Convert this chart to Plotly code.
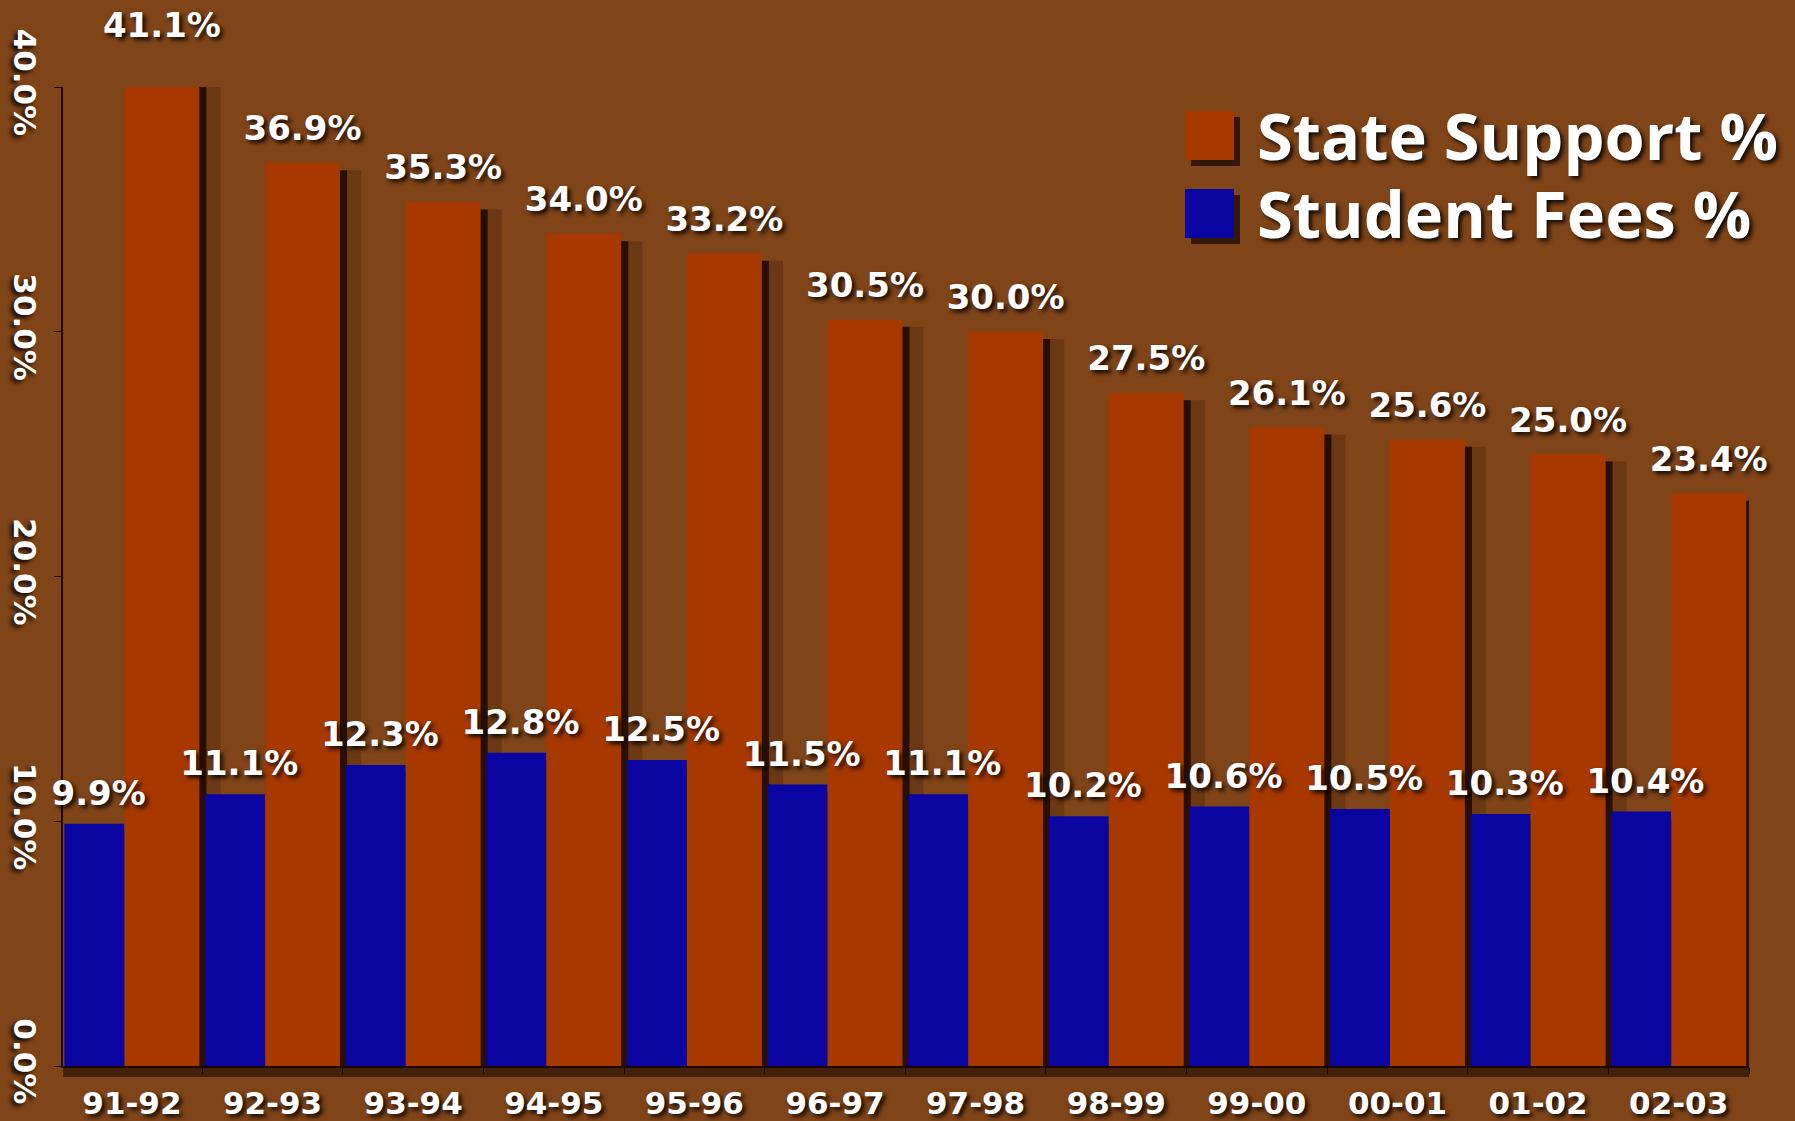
import plotly.graph_objects as go

categories = ["91-92", "92-93", "93-94", "94-95", "95-96", "96-97",
              "97-98", "98-99", "99-00", "00-01", "01-02", "02-03"]
state_support = [41.1, 36.9, 35.3, 34.0, 33.2, 30.5, 30.0, 27.5, 26.1, 25.6, 25.0, 23.4]
student_fees = [9.9, 11.1, 12.3, 12.8, 12.5, 11.5, 11.1, 10.2, 10.6, 10.5, 10.3, 10.4]
y_ticks = [0, 10, 20, 30, 40]
y_tick_labels = ["0.0%", "10.0%", "20.0%", "30.0%", "40.0%"]

ORANGE = "#a63800"
BLUE = "#0a04a0"
BG = "#7f4418"
SHADOW = "rgba(22,6,0,0.8)"
TXT_SHADOW = "3px 3px 4px rgba(0,0,0,0.85)"

W, H = 1795, 1121
ML, MR, MT, MB = 63, 46, 20, 55
Y_TOP_PX = 87                      # pixel row of the 40% line
PW = W - ML - MR
PH = H - MT - MB
MAIN_DOM = (H - MB - Y_TOP_PX) / PH
Y_MAX = 40
Y2_MAX = Y_MAX / MAIN_DOM          # same pixel scale on the label axis


def px(xp):
    return (xp - ML) / PW


def py(yp):
    return (H - MB - yp) / PH


x = list(range(len(categories)))
X_RANGE = [-0.49, 11.5]

# geometry in category units
G0 = -0.48
BLUE_W = 0.427
ORANGE_OFF = G0 + BLUE_W
ORANGE_W = 0.533

fig = go.Figure()

# soft darkening right of each orange bar
fig.add_trace(go.Bar(x=x, y=state_support, base=-0.3, offset=ORANGE_OFF + 0.03, width=ORANGE_W + 0.12,
                     marker=dict(color="rgba(30,10,0,0.2)", line=dict(width=0)), hoverinfo="skip", showlegend=False))
# drop shadow of bars
fig.add_trace(go.Bar(x=x, y=state_support, base=-0.3, offset=ORANGE_OFF + 0.05, width=ORANGE_W,
                     marker=dict(color=SHADOW, line=dict(width=0)), hoverinfo="skip", showlegend=False))
fig.add_trace(go.Bar(x=x, y=student_fees, base=-0.3, offset=G0 + 0.05, width=BLUE_W,
                     marker=dict(color=SHADOW, line=dict(width=0)), hoverinfo="skip", showlegend=False))
fig.add_trace(go.Bar(x=x, y=student_fees, offset=G0, width=BLUE_W, name="Student Fees %",
                     marker=dict(color=BLUE, line=dict(width=0)), showlegend=False))
fig.add_trace(go.Bar(x=x, y=state_support, offset=ORANGE_OFF, width=ORANGE_W, name="State Support %",
                     marker=dict(color=ORANGE, line=dict(width=0)), showlegend=False))

label_font = dict(family="DejaVu Sans", size=34, color="white", weight="bold", shadow=TXT_SHADOW)

# value labels on an invisible overlay subplot with the same scale but taller extent
fig.add_trace(go.Scatter(x=[i + ORANGE_OFF + ORANGE_W / 2 for i in x], y=state_support,
                         text=[f"{v:.1f}%" for v in state_support], mode="markers+text",
                         textposition="top center", textfont=label_font, xaxis="x2", yaxis="y2",
                         cliponaxis=False,
                         marker=dict(size=21, opacity=0), hoverinfo="skip", showlegend=False))
fig.add_trace(go.Scatter(x=[i + G0 + BLUE_W / 2 + 0.03 for i in x], y=student_fees,
                         text=[f"{v:.1f}%" for v in student_fees], mode="markers+text",
                         textposition="top center", textfont=label_font, xaxis="x2", yaxis="y2",
                         cliponaxis=False,
                         marker=dict(size=15, opacity=0), hoverinfo="skip", showlegend=False))

# custom legend
annotations = []
leg_font = dict(family="Open Sans", size=65, color="white", weight="bold", shadow=TXT_SHADOW)
legend_items = [("State Support %", ORANGE, 111), ("Student Fees %", BLUE, 189)]
shapes = []
for name, col, ytop in legend_items:
    shapes.append(dict(type="rect", xref="paper", yref="paper", layer="above",
                       x0=px(1191), x1=px(1240), y0=py(ytop + 55), y1=py(ytop + 6),
                       fillcolor="rgba(20,5,0,0.7)", line=dict(width=0)))
    shapes.append(dict(type="rect", xref="paper", yref="paper", layer="above",
                       x0=px(1185), x1=px(1234), y0=py(ytop + 49), y1=py(ytop),
                       fillcolor=col, line=dict(width=0)))
    annotations.append(dict(x=px(1255), y=py(ytop + 24), xref="paper", yref="paper",
                            text=name, showarrow=False, xanchor="left", yanchor="middle", font=leg_font))

# shadow below x axis
shapes.append(dict(type="rect", xref="paper", yref="paper", layer="below",
                   x0=0, x1=1.0, y0=py(H - MB + 11), y1=0, fillcolor="rgba(25,8,0,0.6)", line=dict(width=0)))

tick_font = dict(family="DejaVu Sans", size=31, color="white", weight="bold", shadow=TXT_SHADOW)

fig.update_layout(
    width=W, height=H,
    paper_bgcolor=BG, plot_bgcolor="rgba(0,0,0,0)",
    margin=dict(l=ML, r=MR, t=MT, b=MB),
    barmode="overlay",
    showlegend=False,
    annotations=annotations,
    shapes=shapes,
    xaxis=dict(range=X_RANGE, domain=[0, 1], tickvals=x, ticktext=categories, showgrid=False, zeroline=False,
               showline=True, linecolor="#1a0800", linewidth=2, ticks="", tickfont=tick_font,
               ticklabelstandoff=9, automargin=False,
               minor=dict(ticks="outside", ticklen=6, tickcolor="#1a0800", tick0=0.5, dtick=1, showgrid=False)),
    yaxis=dict(range=[0, Y_MAX], domain=[0, MAIN_DOM], tickvals=y_ticks, ticktext=y_tick_labels, tickangle=90,
               showgrid=False, zeroline=False, showline=True, linecolor="#1a0800", linewidth=2, ticks="outside",
               ticklen=7, tickcolor="#1a0800", tickfont=tick_font, ticklabelstandoff=3, automargin=False),
    xaxis2=dict(range=X_RANGE, domain=[0, 1], anchor="y2", visible=False, fixedrange=True),
    yaxis2=dict(range=[0, Y2_MAX], domain=[0, 1], anchor="x2", visible=False, fixedrange=True),
)

fig.write_html("out.html", config={"displayModeBar": False},
               post_script="document.body.style.margin='0';document.body.style.overflow='hidden';")
